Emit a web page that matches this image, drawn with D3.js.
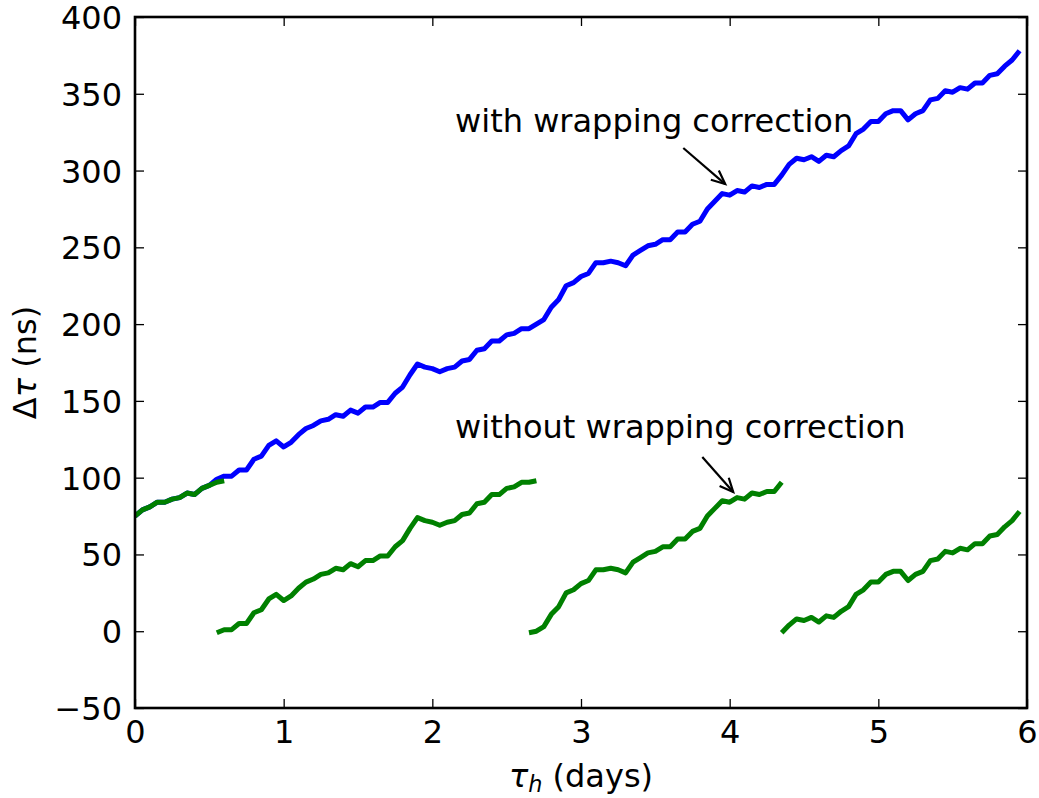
<!DOCTYPE html>
<html><head><meta charset="utf-8">
<script src="https://cdn.jsdelivr.net/npm/d3@7"></script>
<style>body{margin:0;background:#fff}svg{display:block}text{font-family:"DejaVu Sans",sans-serif}</style>
</head><body><svg id="c" width="1039" height="798"></svg>
<script>
// ---- data ----
const tStep = 0.05;
const blueStart = 0;
const blueValues = [
  75,79,81,84,84,86,87,90,89,93,
  95,99,101,101,105,105,112,114,121,124,
  120,123,128,132,134,137,138,141,140,144,
  142,146,146,149,149,155,159,167,174,172,
  171,169,171,172,176,177,183,184,189,189,
  193,194,197,197,200,203,211,216,225,227,
  231,233,240,240,241,240,238,245,248,251,
  252,255,255,260,260,265,267,275,280,285,
  284,287,286,290,289,291,291,297,304,308,
  307,309,306,310,309,313,316,324,327,332,
  332,337,339,339,333,337,339,346,347,352,
  351,354,353,357,357,362,363,368,372,378
];
const green1Start = 0.00;
const green1Values = [75,79,81,84,84,86,87,90,89,93,95,97,98];
const green2Start = 0.55;
const green2Values = [
  -1,1,1,5,5,12,14,21,24,20,
  23,28,32,34,37,38,41,40,44,42,
  46,46,49,49,55,59,67,74,72,71,
  69,71,72,76,77,83,84,89,89,93,
  94,97,97,98
];
const green3Start = 2.65;
const green3Values = [
  -1,0,3,11,16,25,27,31,33,40,
  40,41,40,38,45,48,51,52,55,55,
  60,60,65,67,75,80,85,84,87,86,
  90,89,91,91,97
];
const green4Start = 4.35;
const green4Values = [
  -1,4,8,7,9,6,10,9,13,16,
  24,27,32,32,37,39,39,33,37,39,
  46,47,52,51,54,53,57,57,62,63,
  68,72,78
];
const xTicks = [0,1,2,3,4,5,6];
const yTicks = [-50,0,50,100,150,200,250,300,350,400];
const annotations = [
  {text:"with wrapping correction", tx:2.153, ty:325.3, ax:3.688, ay:314.7, hx:3.97, hy:291.2},
  {text:"without wrapping correction", tx:2.153, ty:125.8, ax:3.816, ay:113.4, hx:4.024, hy:90.6}
];

// ---- layout ----
const L=135, R=1027, T=17, B=708;
const svg = d3.select("#c");
const x = d3.scaleLinear().domain([0,6]).range([L,R]);
const y = d3.scaleLinear().domain([-50,400]).range([B,T]);
const FS = 32;

svg.append("defs").append("clipPath").attr("id","clip")
  .append("rect").attr("x",L).attr("y",T).attr("width",R-L).attr("height",B-T);

function series(start, vals, color){
  const line = d3.line().x((d,i)=>x(start+i*tStep)).y(d=>y(d));
  svg.append("path").datum(vals).attr("d",line).attr("fill","none")
    .attr("stroke",color).attr("stroke-width",5).attr("stroke-linejoin","round")
    .attr("stroke-linecap","butt").attr("clip-path","url(#clip)");
}
series(blueStart, blueValues, "#0000ff");
series(green1Start, green1Values, "#008000");
series(green2Start, green2Values, "#008000");
series(green3Start, green3Values, "#008000");
series(green4Start, green4Values, "#008000");

// axes
const tk = 9;
const fmt = d => d < 0 ? "\u2212" + Math.abs(d) : String(d);
const gb = svg.append("g").attr("transform",`translate(0,${B})`)
  .call(d3.axisBottom(x).tickValues(xTicks).tickFormat(fmt).tickSizeInner(-tk).tickSizeOuter(0).tickPadding(12));
const gt = svg.append("g").attr("transform",`translate(0,${T})`)
  .call(d3.axisTop(x).tickValues(xTicks).tickFormat("").tickSizeInner(-tk).tickSizeOuter(0));
const gl = svg.append("g").attr("transform",`translate(${L},0)`)
  .call(d3.axisLeft(y).tickValues(yTicks).tickFormat(fmt).tickSizeInner(-tk).tickSizeOuter(0).tickPadding(13));
const gr = svg.append("g").attr("transform",`translate(${R},0)`)
  .call(d3.axisRight(y).tickValues(yTicks).tickFormat("").tickSizeInner(-tk).tickSizeOuter(0));
[gb,gt,gl,gr].forEach(g=>{
  g.select(".domain").remove();
  g.selectAll(".tick line").attr("stroke","#000").attr("stroke-width",1.3);
  g.selectAll(".tick text").attr("fill","#000").style("font-size",FS+"px").style("font-family","DejaVu Sans");
});
gl.selectAll(".tick text").attr("dy","0.36em");

svg.append("rect").attr("x",L).attr("y",T).attr("width",R-L).attr("height",B-T)
  .attr("fill","none").attr("stroke","#000").attr("stroke-width",2.6);

// axis labels
const xl = svg.append("text").attr("x",(L+R)/2).attr("y",787).attr("text-anchor","middle")
  .style("font-size",FS+"px");
xl.append("tspan").style("font-style","italic").text("\u03c4");
xl.append("tspan").style("font-style","italic").style("font-size",(FS*0.7)+"px").attr("dy",5).text("h");
xl.append("tspan").attr("dy",-5).text(" (days)");

const yl = svg.append("text").attr("transform",`translate(36,${(T+B)/2}) rotate(-90)`)
  .attr("text-anchor","middle").style("font-size",FS+"px");
yl.append("tspan").text("\u0394");
yl.append("tspan").style("font-style","italic").text("\u03c4");
yl.append("tspan").text(" (ns)");

// annotations
annotations.forEach(a=>{
  svg.append("text").attr("x",x(a.tx)).attr("y",y(a.ty)).style("font-size",FS+"px").attr("fill","#000").text(a.text);
  const x1=x(a.ax), y1=y(a.ay), x2=x(a.hx), y2=y(a.hy);
  const ang = Math.atan2(y2-y1, x2-x1), hl = 15, ha = 0.42;
  svg.append("line").attr("x1",x1).attr("y1",y1).attr("x2",x2).attr("y2",y2)
    .attr("stroke","#000").attr("stroke-width",2.2);
  svg.append("path")
    .attr("d",`M${x2-hl*Math.cos(ang-ha)},${y2-hl*Math.sin(ang-ha)}L${x2},${y2}L${x2-hl*Math.cos(ang+ha)},${y2-hl*Math.sin(ang+ha)}`)
    .attr("fill","none").attr("stroke","#000").attr("stroke-width",2.2);
});
</script>
</body></html>
